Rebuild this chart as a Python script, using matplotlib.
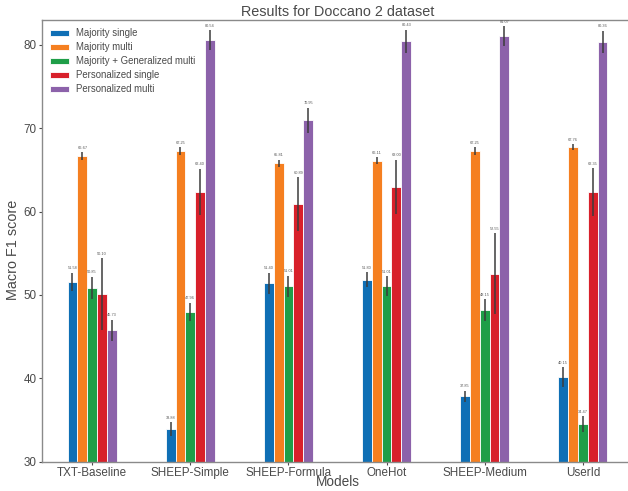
import matplotlib
matplotlib.use("Agg")
import matplotlib.pyplot as plt
import numpy as np

models = ["TXT-Baseline", "SHEEP-Simple", "SHEEP-Formula", "OneHot", "SHEEP-Medium", "UserId"]
series = ["Majority single", "Majority multi", "Majority + Generalized multi",
          "Personalized single", "Personalized multi"]
colors = ["#0f6fb5", "#f57f20", "#1f9e48", "#d8202a", "#8c62aa"]

majority_single = [51.58, 33.88, 51.40, 51.80, 37.85, 40.15]
majority_multi = [66.67, 67.25, 65.81, 66.11, 67.25, 67.76]
majority_gen_multi = [50.85, 47.96, 51.01, 51.01, 48.15, 34.47]
personalized_single = [50.10, 62.40, 60.89, 63.00, 52.55, 62.35]
personalized_multi = [45.73, 80.54, 70.95, 80.43, 81.07, 80.36]

err_majority_single = [1.1, 0.85, 1.25, 0.9, 0.66, 1.15]
err_majority_multi = [0.45, 0.45, 0.4, 0.4, 0.45, 0.35]
err_majority_gen_multi = [1.3, 1.1, 1.3, 1.2, 1.3, 0.95]
err_personalized_single = [4.3, 2.75, 3.25, 3.25, 4.85, 2.85]
err_personalized_multi = [1.3, 1.2, 1.5, 1.4, 1.2, 1.35]

values = [majority_single, majority_multi, majority_gen_multi, personalized_single, personalized_multi]
errors = [err_majority_single, err_majority_multi, err_majority_gen_multi,
          err_personalized_single, err_personalized_multi]

plt.rcParams['font.family'] = ['Liberation Sans', 'DejaVu Sans']
text_col = '#4a4a4a'

fig = plt.figure(figsize=(6.28, 4.91), dpi=100)
ax_bottom = 461.5
ax = fig.add_axes([42/628, 1 - ax_bottom/491, (633-42)/628, (ax_bottom-20)/491])

x = np.arange(len(models))
w = 0.1
for i, (vals, errs, c, name) in enumerate(zip(values, errors, colors, series)):
    pos = x + (i - 2) * w
    ax.bar(pos, vals, width=w, color=c, edgecolor='white', linewidth=0.6, label=name, zorder=2)
    ax.errorbar(pos, vals, yerr=errs, fmt='none', ecolor='#3c3c3c', elinewidth=1.1, capsize=0, zorder=3)
    for p, v, e in zip(pos, vals, errs):
        ax.text(p, v + e + 0.3, f"{v:.2f}", ha='center', va='bottom', fontsize=2.8, color='#555555')

ax.set_ylim(30, 83)
ax.set_xlim(-0.51, 5.51)
ax.set_xticks(x)
ax.set_xticklabels(models)
ax.set_yticks([30, 40, 50, 60, 70, 80])
ax.tick_params(axis='both', labelsize=8.4, colors=text_col, length=2.5, width=0.8, pad=1.5)
for sp in ax.spines.values():
    sp.set_color('#8a8a8a')
    sp.set_linewidth(1.0)
ax.set_title("Results for Doccano 2 dataset", fontsize=10.4, color=text_col, pad=3)
ax.set_xlabel("Models", fontsize=9.8, color=text_col, va='bottom')
ax.set_ylabel("Macro F1 score", fontsize=10.4, color=text_col)
# place x label so its bottom sits just inside the figure
ax.xaxis.set_label_coords(0.5, -(ax_bottom - 491 + 1.5) / (ax_bottom - 20) * -1 * -1)
ax.xaxis.label.set_transform(fig.transFigure)
ax.xaxis.label.set_position((ax.get_position().x0 + ax.get_position().width / 2, 1.5 / 491))
ax.yaxis.set_label_coords(-0.037, 0.48)

leg = ax.legend(loc='upper left', frameon=False, fontsize=6.9, handlelength=2.0, handleheight=0.55,
                handletextpad=0.7, labelspacing=0.42, borderaxespad=0.45, bbox_to_anchor=(0.0, 1.0))
for t in leg.get_texts():
    t.set_color(text_col)

fig.savefig("out.png", dpi=100)
